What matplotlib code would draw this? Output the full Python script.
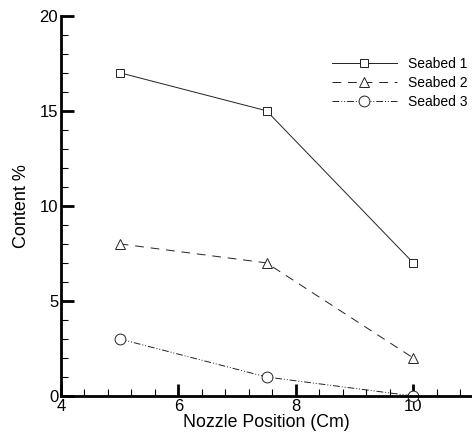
import matplotlib
matplotlib.use("Agg")
import matplotlib.pyplot as plt
from matplotlib.ticker import MultipleLocator

plt.rcParams['font.family'] = ['Liberation Sans', 'DejaVu Sans']

x = [5, 7.5, 10]
seabed1 = [17, 15, 7]
seabed2 = [8, 7, 2]
seabed3 = [3, 1, 0]
labels = ["Seabed 1", "Seabed 2", "Seabed 3"]

fig = plt.figure(figsize=(4.72, 4.34), dpi=100)
ax = fig.add_axes([61/472, 1-396/434, 1-61/472, (396-15.7)/434])

lc = '#222222'
ax.plot(x, seabed1, color=lc, lw=0.7, ls='-', marker='s', ms=5.8,
        mfc='white', mec=lc, mew=0.7, label=labels[0], clip_on=False)
ax.plot(x, seabed2, color=lc, lw=0.7, ls=(0, (9, 7)), marker='^', ms=7.5,
        mfc='white', mec=lc, mew=0.7, label=labels[1], clip_on=False)
ax.plot(x, seabed3, color=lc, lw=0.7, ls=(0, (7, 2, 1, 2, 1, 2)), marker='o', ms=7.8,
        mfc='white', mec=lc, mew=0.7, label=labels[2], clip_on=False)

ax.set_xlim(4, 11)
ax.set_ylim(0, 20)
ax.xaxis.set_major_locator(MultipleLocator(2))
ax.xaxis.set_minor_locator(MultipleLocator(0.4))
ax.yaxis.set_major_locator(MultipleLocator(5))
ax.yaxis.set_minor_locator(MultipleLocator(1))

for s in ['top', 'right']:
    ax.spines[s].set_visible(False)
for s in ['left', 'bottom']:
    ax.spines[s].set_linewidth(2)

ax.tick_params(which='major', direction='in', length=9, width=2, labelsize=12, pad=2)
ax.tick_params(which='minor', direction='in', length=5, width=0.8)

ax.set_xlabel("Nozzle Position (Cm)", fontsize=12.8, labelpad=0)
ax.set_ylabel("Content %", fontsize=13, labelpad=7)

leg = ax.legend(loc='upper right', bbox_to_anchor=(1.02, 0.924), frameon=False,
                fontsize=10, handlelength=4.7, handletextpad=0.8, labelspacing=0.35)

fig.savefig("out.png", dpi=100)
